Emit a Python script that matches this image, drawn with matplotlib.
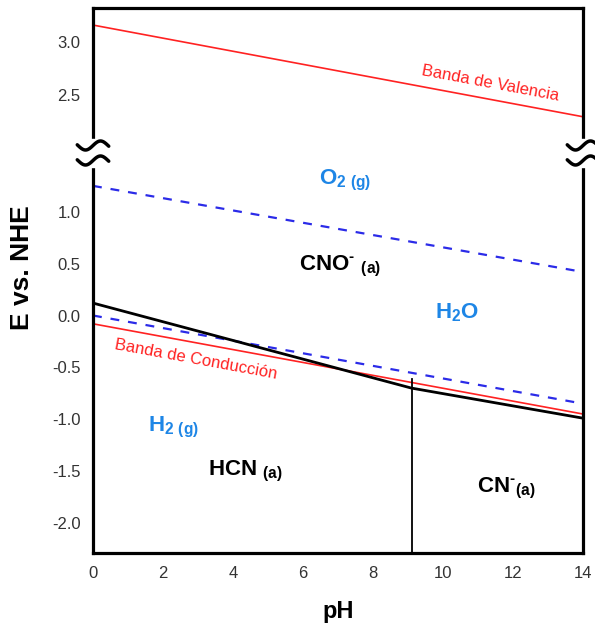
import numpy as np
import matplotlib
matplotlib.use("Agg")
import matplotlib.pyplot as plt
from matplotlib.lines import Line2D
from matplotlib.patches import Rectangle

plt.rcParams["font.family"] = ["Liberation Sans", "DejaVu Sans"]
plt.rcParams["mathtext.fontset"] = "custom"
plt.rcParams["mathtext.rm"] = "Liberation Sans:bold"
plt.rcParams["mathtext.bf"] = "Liberation Sans:bold"
plt.rcParams["mathtext.default"] = "bf"

# ---- data ----
PH_ENDS       = [0, 14]
E_VALENCE     = [3.16, 2.30]     # Banda de Valencia
E_CONDUCTION  = [-0.08, -0.95]   # Banda de Conducción
E_O2_H2O      = [1.25, 0.42]     # O2 / H2O
E_H2O_H2      = [0.0, -0.85]     # H2O / H2
PH_CNO        = [0, 9.1, 14]     # CNO- / HCN, CN- boundary
E_CNO         = [0.12, -0.70, -0.99]
PKA_HCN       = 9.1
E_PKA_TOP     = -0.61

X_TICKS       = [0, 2, 4, 6, 8, 10, 12, 14]
Y_TICKS_LOW   = [-2.0, -1.5, -1.0, -0.5, 0.0, 0.5, 1.0]
Y_TICKS_HIGH  = [2.5, 3.0]

REGIONS = [  # label, pH, E, colour
    ("O$_{2\\ (g)}$",                7.2,  1.30, "blue"),
    ("CNO$^{\\text{-}}$ $_{(a)}$",   7.05, 0.47, "black"),
    ("H$_2$O",                       10.4, 0.03, "blue"),
    ("H$_{2\\ (g)}$",                2.3, -1.08, "blue"),
    ("HCN $_{(a)}$",                 4.35, -1.50, "black"),
    ("CN$^{\\text{-}}{}_{(a)}$",     11.8, -1.67, "black"),
]

RED = "#ff2222"
DASH_BLUE = "#2b2be8"
TEXT_BLUE = "#1e86e6"
W, H = 595, 628
LEFT, RIGHT, TOP, BREAK, BOTTOM = 93, 583, 8, 153, 553  # pixel frame


def frac(px, py):
    return px / W, 1 - py / H


fig = plt.figure(figsize=(W / 100, H / 100), dpi=100)
x0, _ = frac(LEFT, 0)
wid = (RIGHT - LEFT) / W
ax_hi = fig.add_axes([x0, 1 - BREAK / H, wid, (BREAK - TOP) / H])
ax_lo = fig.add_axes([x0, 1 - BOTTOM / H, wid, (BOTTOM - BREAK) / H])

ax_hi.set_ylim(1.96, 3.32)
ax_lo.set_ylim(-2.29, 1.567)
for ax in (ax_hi, ax_lo):
    ax.set_xlim(0, 14)
    for s in ax.spines.values():
        s.set_linewidth(2.3)
    ax.tick_params(length=0, labelsize=12, labelcolor="#333333", pad=9)
ax_hi.spines["bottom"].set_visible(False)
ax_lo.spines["top"].set_visible(False)
ax_hi.set_xticks([])
ax_hi.set_yticks(Y_TICKS_HIGH, [f"{v:.1f}" for v in Y_TICKS_HIGH])
ax_lo.set_yticks(Y_TICKS_LOW, [f"{v:.1f}" for v in Y_TICKS_LOW])
ax_lo.set_xticks(X_TICKS, [str(v) for v in X_TICKS])

# lines
ax_hi.plot(PH_ENDS, E_VALENCE, color=RED, lw=1.2)
ax_lo.plot(PH_ENDS, E_CONDUCTION, color=RED, lw=1.2)
ax_lo.plot(PH_ENDS, E_O2_H2O, color=DASH_BLUE, lw=1.6, dashes=(4, 4))
ax_lo.plot(PH_ENDS, E_H2O_H2, color=DASH_BLUE, lw=1.6, dashes=(4, 4))
ax_lo.plot(PH_CNO, E_CNO, color="black", lw=2.0)
ax_lo.plot([PKA_HCN, PKA_HCN], [E_PKA_TOP, ax_lo.get_ylim()[0]], color="black", lw=1.3)


def angle(ax, xs, ys):
    p = ax.transData.transform(np.column_stack([xs, ys]))
    return np.degrees(np.arctan2(p[1, 1] - p[0, 1], p[1, 0] - p[0, 0]))


ax_hi.text(11.35, 2.61, "Banda de Valencia", color=RED, fontsize=12,
           rotation=angle(ax_hi, PH_ENDS, E_VALENCE), rotation_mode="anchor",
           ha="center", va="center")
ax_lo.text(2.95, -0.42, "Banda de Conducción", color=RED, fontsize=12,
           rotation=angle(ax_lo, PH_ENDS, E_CONDUCTION), rotation_mode="anchor",
           ha="center", va="center")

for label, ph, e, col in REGIONS:
    ax_lo.text(ph, e, label, color=TEXT_BLUE if col == "blue" else "black",
               fontsize=16, fontweight="bold", ha="center", va="center")

ax_lo.set_xlabel("pH", fontsize=17, fontweight="bold", labelpad=14)
fig.text(frac(22, 0)[0], frac(0, 268)[1], "E vs. NHE", rotation=90,
         fontsize=19, fontweight="bold", ha="center", va="center")

# axis break marks
t = np.linspace(-1.05, 1.05, 60)
for cx in (LEFT, RIGHT):
    fx, fy = frac(cx - 4, BREAK + 14)
    fig.add_artist(Rectangle((fx, fy), 8 / W, 28 / H, transform=fig.transFigure,
                             color="white", zorder=5))
    for dy in (-7.5, 7.5):
        xs = (cx + 15 * t) / W
        ys = 1 - (BREAK + dy - 4.5 * np.sin(np.pi * t)) / H
        fig.add_artist(Line2D(xs, ys, transform=fig.transFigure, color="black",
                              lw=2.5, zorder=6, solid_capstyle="round"))

fig.savefig("out.png", dpi=100)
